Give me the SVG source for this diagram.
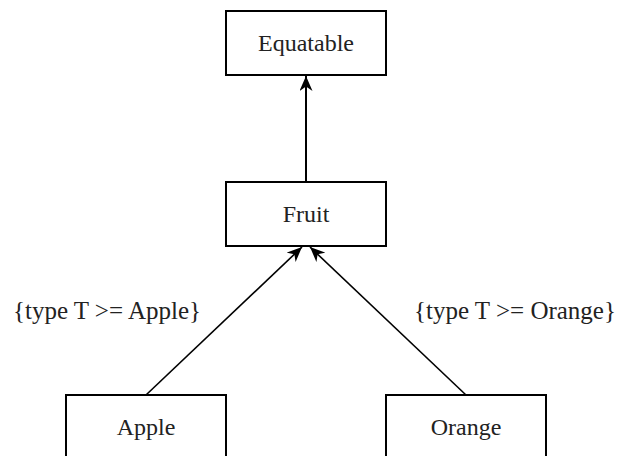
<svg xmlns="http://www.w3.org/2000/svg" width="622" height="456" viewBox="0 0 622 456">
  <style>
    .box { fill: #ffffff; stroke: #000000; stroke-width: 2; }
    .label { font-family: "Liberation Serif", "Times New Roman", serif; font-size: 24px; fill: #222222; text-anchor: middle; }
    .edge-label { font-size: 25px; }
    .edge { fill: none; stroke: #000000; stroke-width: 1.6; }
    .edge.main { stroke-width: 2; }
  </style>
  <defs>
    <marker id="arrow" viewBox="0 0 15 13" refX="15" refY="6.5" markerWidth="15" markerHeight="13" markerUnits="userSpaceOnUse" orient="auto">
      <path d="M0,0 L15,6.5 L0,13 L4.5,6.5 Z" fill="#000000"/>
    </marker>
  </defs>
  <rect width="622" height="456" fill="#ffffff"/>

  <g id="connectors">
    <line class="edge main" x1="306" y1="182" x2="306" y2="76" marker-end="url(#arrow)"/>
    <line class="edge" x1="146" y1="395" x2="302" y2="247" marker-end="url(#arrow)"/>
    <line class="edge" x1="466" y1="395" x2="310" y2="247" marker-end="url(#arrow)"/>
    <text class="label edge-label" x="107" y="319">{type T &gt;= Apple}</text>
    <text class="label edge-label" x="515" y="319">{type T &gt;= Orange}</text>
  </g>

  <g id="equatable">
    <rect class="box" x="226" y="11" width="160" height="64"/>
    <text class="label" x="306" y="51">Equatable</text>
  </g>
  <g id="fruit">
    <rect class="box" x="226" y="182" width="160" height="64"/>
    <text class="label" x="306" y="222">Fruit</text>
  </g>
  <g id="apple">
    <rect class="box" x="66" y="395" width="160" height="64"/>
    <text class="label" x="146" y="435">Apple</text>
  </g>
  <g id="orange">
    <rect class="box" x="386" y="395" width="160" height="64"/>
    <text class="label" x="466" y="435">Orange</text>
  </g>
</svg>
